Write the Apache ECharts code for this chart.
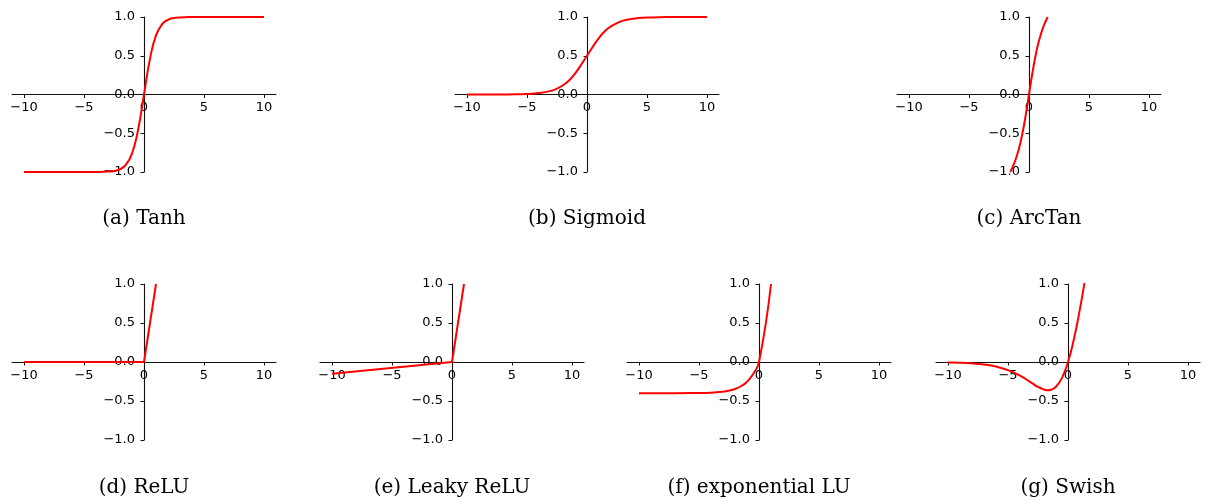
<!DOCTYPE html>
<html>
<head>
<meta charset="utf-8">
<script src="https://cdn.jsdelivr.net/npm/echarts@6/dist/echarts.min.js"></script>
<style>
html, body { margin: 0; padding: 0; background: #fff; }
#chart { width: 1209px; height: 501px; }
</style>
</head>
<body>
<div id="chart"></div>
<script>
// tick positions shared by all panels
var xTicks = [-10, -5, 0, 5, 10];

// values, one pair of arrays per panel
var tanhX = [-10, -6, -5, -4, -3, -2.5, -2, -1.5, -1, -0.5, 0, 0.5, 1, 1.5, 2, 2.5, 3, 4, 5, 6, 10];
var tanhY = [-1, -1, -1, -0.999, -0.995, -0.987, -0.964, -0.905, -0.762, -0.462, 0, 0.462, 0.762, 0.905, 0.964, 0.987, 0.995, 0.999, 1, 1, 1];

var sigX = [-10, -7, -6, -5, -4, -3, -2.5, -2, -1.5, -1, -0.5, 0, 0.5, 1, 1.5, 2, 2.5, 3, 4, 5, 6, 7, 10];
var sigY = [0, 0.001, 0.002, 0.007, 0.018, 0.047, 0.076, 0.12, 0.18, 0.27, 0.38, 0.5, 0.62, 0.73, 0.82, 0.88, 0.92, 0.953, 0.982, 0.993, 0.998, 0.999, 1];

var atanX = [-1.56, -1.25, -1, -0.75, -0.5, -0.25, 0, 0.25, 0.5, 0.75, 1, 1.25, 1.56];
var atanY = [-1, -0.896, -0.785, -0.644, -0.464, -0.245, 0, 0.245, 0.464, 0.644, 0.785, 0.896, 1];

var reluX = [-10, 0, 1];
var reluY = [0, 0, 1];

var leakyX = [-10, 0, 1];
var leakyY = [-0.15, 0, 1];

var eluX = [-10, -7, -5, -4, -3, -2.5, -2, -1.5, -1, -0.5, 0, 1];
var eluY = [-0.4, -0.4, -0.397, -0.393, -0.38, -0.367, -0.346, -0.311, -0.253, -0.157, 0, 1];

var swishX = [-10, -8, -7, -6, -5, -4, -3, -2.5, -2, -1.7, -1.4, -1, -0.5, 0, 0.5, 1, 1.4];
var swishY = [-0.005, -0.017, -0.031, -0.058, -0.104, -0.175, -0.271, -0.32, -0.353, -0.362, -0.355, -0.317, -0.203, 0, 0.298, 0.684, 1.04];

var captions = ['(a) Tanh', '(b) Sigmoid', '(c) ArcTan', '(d) ReLU', '(e) Leaky ReLU', '(f) exponential LU', '(g) Swish'];

// layout of the seven panels
var panels = [
	{ left: 12,  top: 17,  height: 155, xs: tanhX,  ys: tanhY,  smooth: true },
	{ left: 455, top: 17,  height: 155, xs: sigX,   ys: sigY,   smooth: true },
	{ left: 897, top: 17,  height: 155, xs: atanX,  ys: atanY,  smooth: true },
	{ left: 12,  top: 284, height: 156, xs: reluX,  ys: reluY,  smooth: false },
	{ left: 320, top: 284, height: 156, xs: leakyX, ys: leakyY, smooth: false },
	{ left: 627, top: 284, height: 156, xs: eluX,   ys: eluY,   smooth: true },
	{ left: 936, top: 284, height: 156, xs: swishX, ys: swishY, smooth: true }
];
var panelWidth = 264;

function minusFmt(v, digits){
	var s = digits ? Math.abs(v).toFixed(digits) : String(Math.abs(v));
	return v < 0 ? '\u2212' + s : s;
}

var grid = [], xAxis = [], yAxis = [], series = [], graphic = [];

panels.forEach(function(p, i){
	grid.push({
		left: p.left, top: p.top, width: panelWidth, height: p.height,
		containLabel: false, outerBoundsMode: 'none'
	});

	// axes are shifted to the middle of the grid (x = 0, y = 0)
	xAxis.push({
		type: 'value', gridIndex: i, min: -11, max: 11,
		position: 'bottom', offset: -p.height / 2,
		axisLine: { onZero: false, lineStyle: { color: '#111', width: 1.1 } },
		axisTick: { show: true, customValues: xTicks, length: 3.5, lineStyle: { color: '#111', width: 1 } },
		axisLabel: {
			customValues: xTicks, margin: 7, color: '#000',
			fontFamily: 'DejaVu Sans', fontSize: 13,
			formatter: function(v){ return minusFmt(v, 0); }
		},
		splitLine: { show: false }
	});

	yAxis.push({
		type: 'value', gridIndex: i, min: -1, max: 1, interval: 0.5,
		position: 'left', offset: -panelWidth / 2,
		axisLine: { show: true, onZero: false, lineStyle: { color: '#111', width: 1.1 } },
		axisTick: { show: true, length: 3.5, lineStyle: { color: '#111', width: 1 } },
		axisLabel: {
			margin: 9, color: '#000',
			fontFamily: 'DejaVu Sans', fontSize: 13,
			formatter: function(v){ return minusFmt(v, 1); }
		},
		splitLine: { show: false }
	});

	var data = [];
	for (var k = 0; k < p.xs.length; k++) {
		data.push([p.xs[k], p.ys[k]]);
	}

	series.push({
		type: 'line', xAxisIndex: i, yAxisIndex: i,
		data: data, showSymbol: false, symbol: 'none',
		smooth: p.smooth ? 0.5 : false,
		clip: true,
		lineStyle: { color: '#ff0000', width: 2 },
		z: 5
	});

	graphic.push({
		type: 'text',
		x: p.left + panelWidth / 2,
		y: p.top < 100 ? 219 : 488,
		style: {
			text: captions[i],
			font: '20px "DejaVu Serif"',
			fill: '#000',
			align: 'center',
			verticalAlign: 'middle'
		}
	});
});

var myChart = echarts.init(document.getElementById('chart'));
var option = {
	animation: false,
	backgroundColor: '#fff',
	grid: grid,
	xAxis: xAxis,
	yAxis: yAxis,
	series: series,
	graphic: graphic
};
option && myChart.setOption(option);
</script>
</body>
</html>
